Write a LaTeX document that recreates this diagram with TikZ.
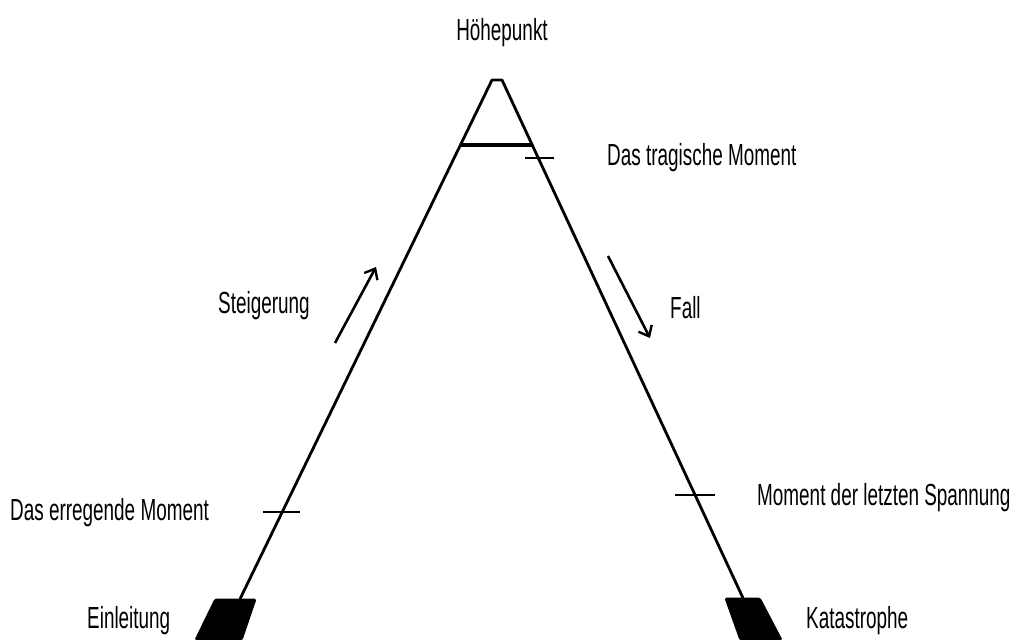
\documentclass[tikz,border=0pt]{standalone}
\usepackage{fontspec}
\newfontfamily\handfont{Liberation Sans}[FakeStretch=0.62]
\usepackage{tikz}
\usetikzlibrary{arrows.meta, positioning, calc}

\begin{document}
\begin{tikzpicture}[
    x=1pt, y=-1pt,
    lbl/.style={font=\handfont\fontsize{30.5}{32}\selectfont, inner sep=0pt},
    side/.style={line width=2.8pt, line join=round},
    tickmark/.style={line width=2.8pt},
    arr/.style={-{Straight Barb[length=9pt, width=15pt, line width=2.4pt]}, line width=2.6pt},
    block/.style={fill=black, draw=black, line width=1pt, rounded corners=1.5pt}
]
\useasboundingbox (0,0) rectangle (1013,640);

% pyramid corners
\coordinate (topL) at (492,80);
\coordinate (topR) at (502,80);
\coordinate (baseL) at (240,599);
\coordinate (baseR) at (743,598);

% sides
\draw[side] (baseL) -- (topL) -- (topR) -- (baseR);

% bar below the top
\coordinate (barL) at ($(topL)!65/519!(baseL)$);
\coordinate (barR) at ($(topR)!65/518!(baseR)$);
\draw[line width=3.6pt] (barL) -- (barR);

% ticks
\coordinate (tickTR) at ($(topR)!78/518!(baseR)$);
\draw[tickmark] ([xshift=-13pt]tickTR) -- ([xshift=16pt]tickTR);
\coordinate (tickBL) at ($(topL)!432/519!(baseL)$);
\draw[tickmark] ([xshift=-19pt]tickBL) -- ([xshift=18pt]tickBL);
\coordinate (tickBR) at ($(topR)!415/518!(baseR)$);
\draw[tickmark] ([xshift=-20pt]tickBR) -- ([xshift=20pt]tickBR);

% base blocks
\draw[block] (215,599) -- (256,599) -- (242,640) -- (195,640) -- cycle;
\draw[block] (725,598) -- (760,598) -- (782,640) -- (740,640) -- cycle;

% direction arrows
\coordinate (upS) at (335,343);
\coordinate (upE) at (376,267);
\draw[arr] (upS) -- (upE);
\coordinate (dnS) at (608,256);
\coordinate (dnE) at (650,338);
\draw[arr] (dnS) -- (dnE);

% labels
\node[lbl, anchor=base] (hoehe) at (502,40) {Höhepunkt};
\node[lbl, anchor=base west] (tragisch) at (607,165) {Das tragische Moment};
\node[lbl, anchor=base west] (steig) at (218,313) {Steigerung};
\node[lbl, anchor=base west] (fall) at (670,318) {Fall};
\node[lbl, anchor=base west] (erreg) at (10,520) {Das erregende Moment};
\node[lbl, anchor=base west] (spann) at (757,505) {Moment der letzten Spannung};
\node[lbl, anchor=base west] (einl) at (87,628) {Einleitung};
\node[lbl, anchor=base west] (kata) at (806,628) {Katastrophe};

\end{tikzpicture}
\end{document}
